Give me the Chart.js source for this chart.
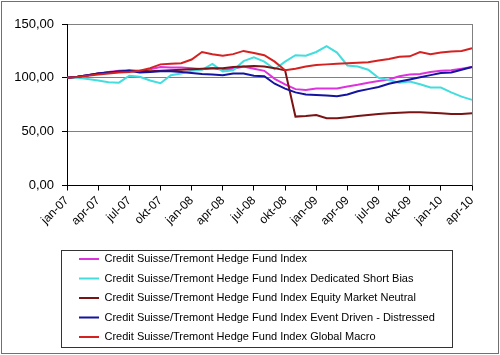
<!DOCTYPE html>
<html><head><meta charset="utf-8">
<script src="https://cdn.jsdelivr.net/npm/chart.js@4"></script>
<style>html,body{margin:0;padding:0;background:#fff;}#wrap{width:500px;height:355px;position:relative;}</style>
</head><body><div id="wrap"><canvas id="c" width="500" height="355"></canvas></div>
<script>
const months = ['jan-07','feb-07','mrt-07','apr-07','mei-07','jun-07','jul-07','aug-07','sep-07','okt-07','nov-07','dec-07',
  'jan-08','feb-08','mrt-08','apr-08','mei-08','jun-08','jul-08','aug-08','sep-08','okt-08','nov-08','dec-08',
  'jan-09','feb-09','mrt-09','apr-09','mei-09','jun-09','jul-09','aug-09','sep-09','okt-09','nov-09','dec-09',
  'jan-10','feb-10','mrt-10','apr-10'];
const labelledMonths = ['jan-07','apr-07','jul-07','okt-07','jan-08','apr-08','jul-08','okt-08','jan-09','apr-09','jul-09','okt-09','jan-10','apr-10'];
const yTicks = [0, 50, 100, 150];
const yTickLabels = ['0,00', '50,00', '100,00', '150,00'];

const seriesNames = [
  'Credit Suisse/Tremont Hedge Fund Index',
  'Credit Suisse/Tremont Hedge Fund Index Dedicated Short Bias',
  'Credit Suisse/Tremont Hedge Fund Index Equity Market Neutral',
  'Credit Suisse/Tremont Hedge Fund Index Event Driven - Distressed',
  'Credit Suisse/Tremont Hedge Fund Index Global Macro'
];
const seriesColors = ['#dd33dd', '#44dddd', '#7a1414', '#1414a0', '#d42222'];

const hedgeFundIndex = [100,101,102.5,104,105.5,106.5,107,106,108,110,109.5,109.5,109,108,109,107.5,108.5,110.5,108.5,106.5,99,94,89.5,88.8,90,90,90,92,93.5,95.5,97,98.5,101.5,103,103.5,105.5,106.5,107,108.5,110];
const dedicatedShortBias = [100,100,99,97.5,96,95.5,102,101,97.5,95,102.5,104,106.5,107.5,113,106,107,115.5,119,115,108,115,121,120.5,124,129.5,123.5,111.5,110.5,107.5,100,98,95.5,96.5,94,91,91,86.5,82.5,79.5];
const equityMarketNeutral = [100,101,102.5,104,105,106,106.5,106.5,106,106.5,107,107.5,108,108.5,109,109,110,110.5,111,110.5,109,107,64,64.5,65.5,62.5,62.5,63.5,64.5,65.5,66.5,67,67.5,68,68,67.5,67,66.5,66.5,67];
const eventDrivenDistressed = [100,101,102.5,104,105,106,106.5,105,105.5,106,106,105.5,104.5,103.5,103,102.5,104,104,102,101.5,94.5,90,86.5,84.5,84,83.5,83,84.5,87.5,89.5,91.5,94.5,96.5,98.5,100.5,102.5,104.5,105,107.5,110];
const globalMacro = [100,100.8,102,103,104,105,105.5,106.5,109,112.5,113,113.5,117,124,122,120.5,122,125,123,121,115,107,108.5,110.5,112,112.5,113,113.5,114,114.5,116,117.5,119.5,120,124,122,123.5,124.5,125,127.5];

const seriesValues = [hedgeFundIndex, dedicatedShortBias, equityMarketNeutral, eventDrivenDistressed, globalMacro];

const FONT = '"Liberation Sans", Arial, Helvetica, sans-serif';
const LEGEND_SIZE = 11;
Chart.defaults.font.family = FONT;
Chart.defaults.color = '#000';

const framePlugin = {
  id: 'frame',
  afterLayout(chart) {
    const lg = chart.legend;
    const dy = 245 - lg.top;
    lg.top += dy; lg.bottom += dy;
    lg.left = 70.5;
  },
  beforeDraw(chart) {
    const c = chart.ctx;
    c.save();
    c.fillStyle = '#fff';
    c.fillRect(0, 0, chart.width, chart.height);
    c.strokeStyle = '#707070';
    c.lineWidth = 1;
    c.strokeRect(1.5, 1.5, chart.width - 3, chart.height - 3);
    c.restore();
  },
  beforeDatasetsDraw(chart) {
    const a = chart.chartArea, c = chart.ctx;
    c.save();
    c.strokeStyle = '#808080';
    c.lineWidth = 1;
    c.beginPath();
    c.moveTo(Math.round(a.right) + 0.5, a.top);
    c.lineTo(Math.round(a.right) + 0.5, a.bottom);
    c.stroke();
    c.restore();
  },
  afterDraw(chart) {
    const lg = chart.legend, c = chart.ctx;
    const pad = lg.options.labels.padding;
    c.save();
    c.font = LEGEND_SIZE + 'px ' + FONT;
    let maxW = 0;
    seriesNames.forEach(n => { maxW = Math.max(maxW, c.measureText(n).width); });
    const left = lg.left + pad - 18;
    const top = lg.top + pad - 4;
    const right = lg.left + pad + 20 + LEGEND_SIZE / 2 + maxW + 17;
    const bottom = lg.top + pad + (seriesNames.length - 1) * (LEGEND_SIZE + pad) + LEGEND_SIZE + 4;
    c.strokeStyle = '#333';
    c.lineWidth = 1;
    c.strokeRect(Math.round(left) + 0.5, Math.round(top) + 0.5, Math.round(right - left), Math.round(bottom - top));
    c.restore();
  }
};

new Chart(document.getElementById('c'), {
  type: 'line',
  data: {
    labels: months,
    datasets: seriesNames.map((name, i) => ({
      label: name,
      data: seriesValues[i],
      borderColor: seriesColors[i],
      backgroundColor: seriesColors[i],
      borderWidth: 2,
      pointRadius: 0,
      tension: 0,
      fill: false,
      order: seriesNames.length - i
    }))
  },
  options: {
    responsive: false,
    animation: false,
    devicePixelRatio: 1,
    layout: { padding: { left: 0, right: 28, top: 24, bottom: 0 } },
    plugins: {
      tooltip: { enabled: false },
      legend: {
        position: 'bottom',
        align: 'start',
        labels: {
          usePointStyle: true,
          pointStyle: 'line',
          pointStyleWidth: 20,
          padding: 8.5,
          color: '#000',
          font: { size: LEGEND_SIZE, family: FONT },
          sort: (a, b) => a.datasetIndex - b.datasetIndex
        }
      }
    },
    scales: {
      x: {
        type: 'category',
        offset: false,
        grid: { display: true, drawOnChartArea: false, tickLength: 5, tickColor: '#000' },
        border: { color: '#000', width: 1 },
        ticks: { autoSkip: false, maxRotation: 45, minRotation: 45, padding: 3, color: '#000', font: { size: 12, family: FONT } },
        afterBuildTicks: s => { s.ticks = s.ticks.filter(t => labelledMonths.includes(months[t.value])); },
        afterFit: s => { s.height = 62; }
      },
      y: {
        min: 0, max: 150,
        afterBuildTicks: s => { s.ticks = yTicks.map(v => ({ value: v })); },
        ticks: { padding: 8, color: '#000', font: { size: 13, family: FONT },
          callback: v => yTickLabels[yTicks.indexOf(v)] },
        grid: { color: c => (c.tick && c.tick.value === 0) ? 'rgba(0,0,0,0)' : '#808080', tickColor: '#000', tickLength: 5, lineWidth: 1 },
        border: { color: '#000', width: 1 },
        afterFit: s => { s.width = 67; }
      }
    }
  },
  plugins: [framePlugin]
});
</script></body></html>
